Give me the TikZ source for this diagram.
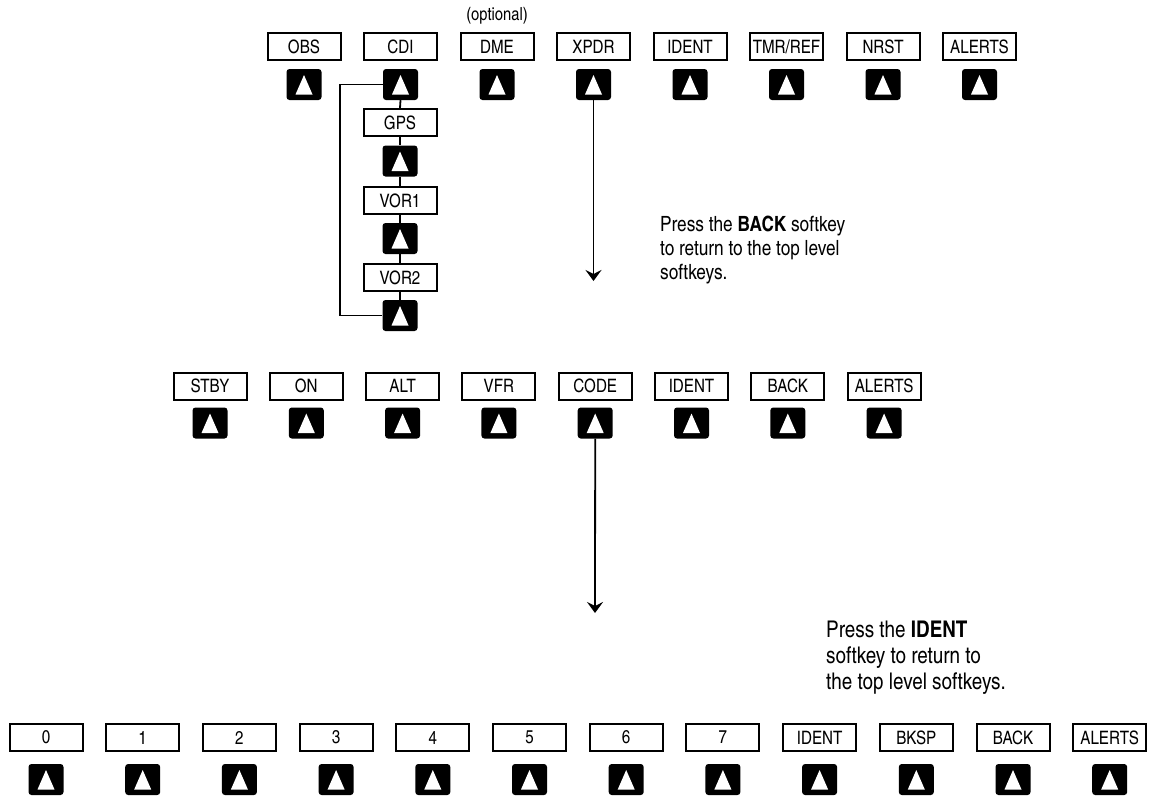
\documentclass[tikz,border=0pt]{standalone}
\usepackage{fontspec}
\setmainfont{texgyreheroscn}[Extension=.otf, UprightFont=*-regular, BoldFont=*-bold]
\usetikzlibrary{arrows.meta}
\begin{document}
\begin{tikzpicture}[x=1pt, y=-1pt,
  sbox/.style={draw, line width=2pt, minimum width=73pt, minimum height=27pt,
    inner sep=0pt, font=\fontsize{18.5}{20}\selectfont},
  keyb/.style={fill=black, rounded corners=3pt, minimum width=35pt, minimum height=31pt,
    inner sep=0pt,
    path picture={\fill[white, sharp corners]
      ([shift={(-8.5pt,5.5pt)}]path picture bounding box.south) --
      ([shift={(8.5pt,5.5pt)}]path picture bounding box.south) --
      ([shift={(0pt,-6pt)}]path picture bounding box.north) -- cycle;}},
  conn/.style={line width=1.8pt},
  arr/.style={conn, -{Stealth[length=11pt, width=16pt, inset=4pt]}},
  note/.style={anchor=north west, inner sep=0pt, align=left,
    font=\fontsize{21}{24}\selectfont}]
\useasboundingbox (0,0) rectangle (1153,796);

% top level softkeys
\foreach \lbl [count=\i] in {OBS,CDI,DME,XPDR,IDENT,TMR/REF,NRST,ALERTS} {
  \node[sbox] (t\i) at ({304+96.5*(\i-1)}, 46.5) {\lbl};
  \node[keyb] (tk\i) at ({304+96.5*(\i-1)}, 84.5) {};
}
\node[font=\fontsize{18}{20}\selectfont] (opt) at (497,16) {(optional)};

% CDI source selection chain
\node[sbox] (g1) at (400,122.5) {GPS};
\node[keyb] (gk1) at (400,161) {};
\node[sbox] (g2) at (400,200.5) {VOR1};
\node[keyb] (gk2) at (400,238.5) {};
\node[sbox] (g3) at (400,277.5) {VOR2};
\node[keyb] (gk3) at (400,315.5) {};
\draw[conn] (tk2.south) -- (g1.north);
\draw[conn] (g1.south) -- (gk1.north);
\draw[conn] (gk1.south) -- (g2.north);
\draw[conn] (g2.south) -- (gk2.north);
\draw[conn] (gk2.south) -- (g3.north);
\draw[conn] (g3.south) -- (gk3.north);
\draw[conn] (tk2.west) -- ++(-43pt,0pt) |- (gk3.west);

% transponder softkeys
\foreach \lbl [count=\i] in {STBY,ON,ALT,VFR,CODE,IDENT,BACK,ALERTS} {
  \node[sbox] (m\i) at ({210+96.3*(\i-1)}, 386) {\lbl};
  \node[keyb] (mk\i) at ({210+96.3*(\i-1)}, 423) {};
}
\coordinate (xpdrEnd) at (593.5,281);
\draw[arr] (tk4.south) -- (xpdrEnd);
\node[note] (n1) at (660,215.5) {Press the \textbf{BACK} softkey\\to return to the top level\\softkeys.};

% code entry softkeys
\foreach \lbl [count=\i] in {0,1,2,3,4,5,6,7,IDENT,BKSP,BACK,ALERTS} {
  \node[sbox] (b\i) at ({46+96.7*(\i-1)}, 737.5) {\lbl};
  \node[keyb] (bk\i) at ({46+96.7*(\i-1)}, 779.5) {};
}
\coordinate (codeEnd) at (595,613);
\draw[arr] (mk5.south) -- (codeEnd);
\node[note, font=\fontsize{23}{26}\selectfont] (n2) at (826,621) {Press the \textbf{IDENT}\\softkey to return to\\the top level softkeys.};
\end{tikzpicture}
\end{document}
